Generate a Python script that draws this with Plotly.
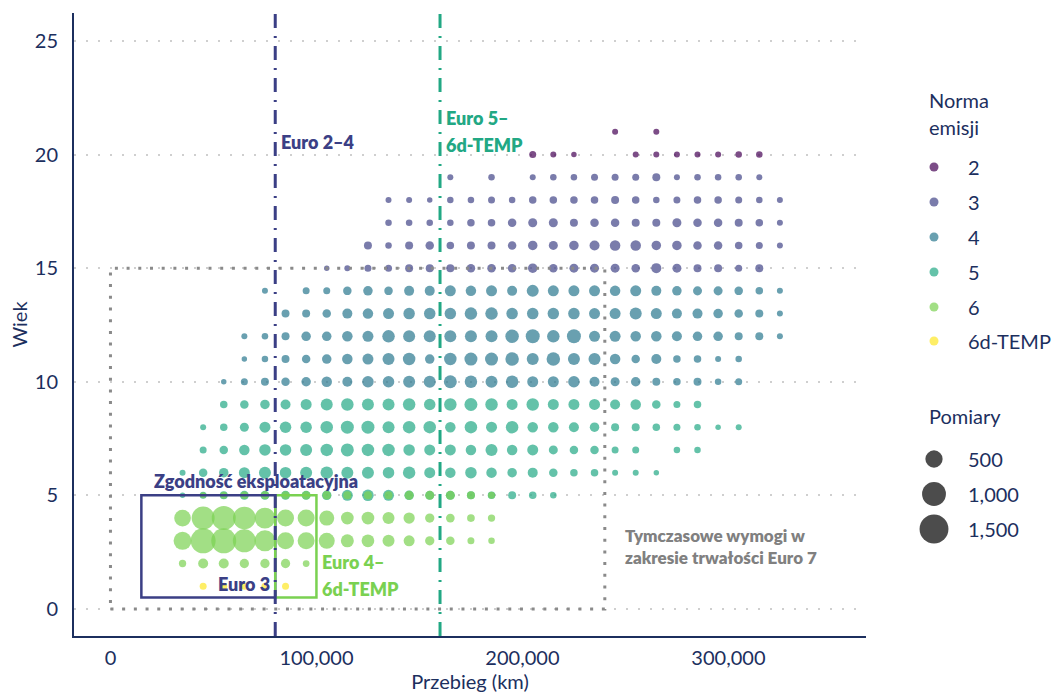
import math
import plotly.graph_objects as go

# Mileage bins are 10,000 km wide; each row lists measurement counts for
# consecutive bins starting at the given bin centre (None = empty bin).
BIN_KM = 10000

EURO2_ROWS = [
    (21, 245000, [42, None, 42]),
    (20, 205000, [62, 42, 33, None, None, 42, 42, 42, 42, 42, 52, 52]),
]

EURO3_ROWS = [
    (19, 165000, [42, None, 52, None, 42, 52, 52, 62, 62, 62, 86, 42, 52, 52, 52, 42]),
    (18, 135000, [42, 42, 33, 52, 52, 62, 52, 74, 74, 74, 74, 86, 74, 52, 62, 74, 74, 62, 52, 42]),
    (17, 135000, [52, 52, 52, 52, 74, 74, 100, 115, 115, 86, 100, 100, 86, 86, 115, 100, 100, 86, 74, 42]),
    (16, 125000, [86, 52, 86, 100, 74, 86, 86, 100, 130, 115, 130, 147, 164, 164, 130, 130, 100, 100, 74, 62, 42]),
    (15, 105000, [33, 42, 62, 62, 86, 86, 86, 100, 100, 100, 130, 100, 115, 115, 115, 100, 147, 115, 86, 86, 62, 86]),
]

EURO4_ROWS = [
    (14, 75000, [42, None, 62, 62, 100, 130, 100, 147, 147, 183, 164, 183, 147, 223, 183, 183, 183, 164,
                 183, 147, 130, 115, 115, 100, 74, 42]),
    (13, 85000, [86, 86, 100, 147, 164, 183, 202, 202, 202, 244, 244, 202, 202, 202, 202, 183, 183, 223,
                 183, 147, 147, 130, 100, 86, 42]),
    (12, 65000, [42, 52, 86, 130, 130, 164, 183, 244, 223, 223, 223, 223, 223, 290, 315, 244, 315, 183,
                 183, 164, 164, 147, 130, 130, 86, 86, 42]),
    (11, 65000, [33, 52, 86, 100, 130, 164, 183, 223, 244, 130, 244, 267, 267, 290, 223, 290, 223, 223,
                 164, 100, 147, 74, 74, 42, 52]),
    (10, 55000, [33, 62, 86, 100, 130, 164, 147, 202, 202, 223, 223, 267, 244, 223, 244, 183, 183, 202,
                 147, 115, 130, 86, 74, 86, 52, 62]),
]

EURO5_ROWS = [
    (9, 55000, [74, 100, 130, 147, 183, 223, 244, 223, 223, 244, 202, 244, 267, 244, 183, 244, 183, 183,
                183, 147, 164, 100, 62, 74]),
    (8, 45000, [42, 74, 115, 183, 202, 202, 244, 267, 267, 223, 244, 244, 164, 244, 183, 244, 164, 164,
                147, 130, 86, 86, 74, 62, 52, 33, 42]),
    (7, 45000, [62, 100, 164, 202, 202, 223, 244, 267, 244, 244, 202, 183, 183, 164, 223, 164, 183, 115,
                100, 100, 62, 62, None, 52, 52]),
    (6, 35000, [42, 100, 130, 183, 223, 202, 223, 244, 223, 223, 202, 244, 183, 164, 202, 164, 130, 147,
                100, 74, 74, 42, 42, 33]),
    (5, 35000, [33, 62, 86, 115, 115, 115, 115, 130, 183, 202, 183, 130, 115, 115, 86, 74, 86, 74, 52]),
]

EURO6_ROWS = [
    (5, 45000, [42, 62, 74, 86, 86, 100, 100, 86, 86, 86, 115, 115, 115, 86, 62]),
    (4, 35000, [464, 925, 1013, 900, 739, 483, 483, 367, 253, 253, 223, 194, 124, 106, 79, 69]),
    (3, 35000, [547, 1105, 1105, 925, 762, 483, 483, 423, 267, 253, 223, 183, 124, 100, 62, 52]),
    (2, 35000, [69, 147, 147, 124, 124, 124, 56]),
]

EURO6D_TEMP_ROWS = [
    (1, 45000, [62, 62, 62, 62, 62]),
]

NORM_LABELS = ["2", "3", "4", "5", "6", "6d-TEMP"]
NORM_ROWS = [EURO2_ROWS, EURO3_ROWS, EURO4_ROWS, EURO5_ROWS, EURO6_ROWS, EURO6D_TEMP_ROWS]
NORM_COLORS = ["#440154", "#414487", "#2A788E", "#22A884", "#7AD151", "#FDE725"]
SIZE_BREAKS = [500, 1000, 1500]
SIZE_LABELS = ["500", "1,000", "1,500"]

X_TICKS = [0, 100000, 200000, 300000]
Y_TICKS = [0, 5, 10, 15, 20, 25]

NAVY = "#3b3f85"
INK = "#1c2f5e"
FONT = "Lato"
ALPHA = 0.7


def size_px(n):
    """Area-proportional bubble diameter in pixels for a measurement count."""
    return 1.4 + 0.71 * math.sqrt(n)


def expand(rows):
    xs, ys, ns = [], [], []
    for age, first_km, counts in rows:
        for i, n in enumerate(counts):
            if n is None:
                continue
            xs.append(first_km + i * BIN_KM)
            ys.append(age)
            ns.append(n)
    return xs, ys, ns


fig = go.Figure()

for label, rows, color in zip(NORM_LABELS, NORM_ROWS, NORM_COLORS):
    xs, ys, ns = expand(rows)
    fig.add_trace(go.Scatter(
        x=xs, y=ys, mode="markers", name=label, showlegend=False,
        marker=dict(size=[size_px(n) for n in ns], color=color, opacity=ALPHA,
                    line=dict(width=0)),
        customdata=ns,
        hovertemplate="Przebieg: %{x:,} km<br>Wiek: %{y}<br>Pomiary: %{customdata}<extra>Euro " + label + "</extra>",
    ))

# ---- legend panel (separate axis pair, pixel-like units) ----
LEG_X_DOT = 934
LEG_X_TEXT = 966
color_rows_y = [167, 202, 237, 272, 307, 341]
size_rows_y = [459, 494, 529]

fig.add_trace(go.Scatter(
    x=[LEG_X_DOT] * len(NORM_LABELS), y=color_rows_y, mode="markers",
    marker=dict(size=9, color=NORM_COLORS, opacity=ALPHA, line=dict(width=0)),
    xaxis="x2", yaxis="y2", showlegend=False, hoverinfo="skip",
))
fig.add_trace(go.Scatter(
    x=[LEG_X_DOT] * len(SIZE_BREAKS), y=size_rows_y, mode="markers",
    marker=dict(size=[size_px(b) for b in SIZE_BREAKS], color="#000000", opacity=ALPHA,
                line=dict(width=0)),
    xaxis="x2", yaxis="y2", showlegend=False, hoverinfo="skip",
))

annotations = []


def leg_text(txt, x, y):
    annotations.append(dict(text=txt, x=x, y=y, xref="x2", yref="y2", xanchor="left",
                            yanchor="middle", showarrow=False,
                            font=dict(family=FONT, size=20, color=INK)))


leg_text("Norma", 927, 100)
leg_text("emisji", 927, 127)
for lab, yy in zip(NORM_LABELS, color_rows_y):
    leg_text(lab, LEG_X_TEXT, yy)
leg_text("Pomiary", 927, 416)
for lab, yy in zip(SIZE_LABELS, size_rows_y):
    leg_text(lab, LEG_X_TEXT, yy)


def note(txt, x, y, color, anchor="left", size=18):
    annotations.append(dict(text=txt, x=x, y=y, xref="x", yref="y", xanchor=anchor,
                            yanchor="middle", showarrow=False,
                            font=dict(family=FONT, size=size, color=color, weight=800)))


note("Euro 2–4", 82000, 20.55, NAVY)
note("Euro 5–", 162000, 21.6, "#22A884")
note("6d-TEMP", 162000, 20.42, "#22A884")
note("Zgodność eksploatacyjna", 20000, 5.63, NAVY)
note("Euro 3", 78500, 1.1, NAVY, anchor="right")
note("Euro 4–", 101500, 2.07, "#7AD151")
note("6d-TEMP", 101500, 0.88, "#7AD151")
note("Tymczasowe wymogi w", 249000, 3.22, "#808080", size=17)
note("zakresie trwałości Euro 7", 249000, 2.28, "#808080", size=17)

shapes = [
    # Euro 7 durability window
    dict(type="rect", xref="x", yref="y", x0=0, x1=240000, y0=0, y1=15,
         line=dict(color="#8a8a8a", width=3, dash="3px,8.7px"), layer="above"),
    # in-service conformity windows
    dict(type="rect", xref="x", yref="y", x0=15000, x1=80000, y0=0.5, y1=5,
         line=dict(color=NAVY, width=2.5), layer="above"),
    dict(type="rect", xref="x", yref="y", x0=80000, x1=100000, y0=0.5, y1=5,
         line=dict(color="#7AD151", width=2.5), layer="above"),
    # durability mileage limits
    dict(type="line", xref="x", yref="y domain", x0=80000, x1=80000, y0=0, y1=1,
         line=dict(color=NAVY, width=3, dash="14px,8px,2px,8px"), layer="above"),
    dict(type="line", xref="x", yref="y domain", x0=160000, x1=160000, y0=0, y1=1,
         line=dict(color="#22A884", width=3, dash="14px,8px,2px,8px"), layer="above"),
]

MAIN_W = 792 / 979

fig.update_layout(
    width=1053, height=693,
    margin=dict(l=74, r=0, t=13, b=57),
    paper_bgcolor="white", plot_bgcolor="white",
    font=dict(family=FONT, color=INK),
    showlegend=False,
    xaxis=dict(domain=[0, MAIN_W], range=[-17700, 366800], tickvals=X_TICKS, tickformat=",",
               showline=True, linecolor=INK, linewidth=2, showgrid=False, zeroline=False,
               ticks="", ticklabelstandoff=3, tickfont=dict(family=FONT, size=20, color=INK),
               title=dict(text="Przebieg (km)", standoff=11,
                          font=dict(family=FONT, size=20, color=INK))),
    yaxis=dict(range=[-1.19, 26.23], tickvals=Y_TICKS, showline=True, linecolor=INK,
               linewidth=2, showgrid=True, gridcolor="#cfcfcf", gridwidth=2,
               griddash="2px,10px", zeroline=False, ticks="", ticklabelstandoff=10,
               tickfont=dict(family=FONT, size=20, color=INK),
               title=dict(text="Wiek", standoff=2, font=dict(family=FONT, size=20, color=INK))),
    xaxis2=dict(domain=[MAIN_W, 1], range=[866, 1053], visible=False, anchor="y2"),
    yaxis2=dict(domain=[0, 1], range=[636, 13], visible=False, anchor="x2"),
    shapes=shapes,
    annotations=annotations,
)

fig.write_html("out.html")
